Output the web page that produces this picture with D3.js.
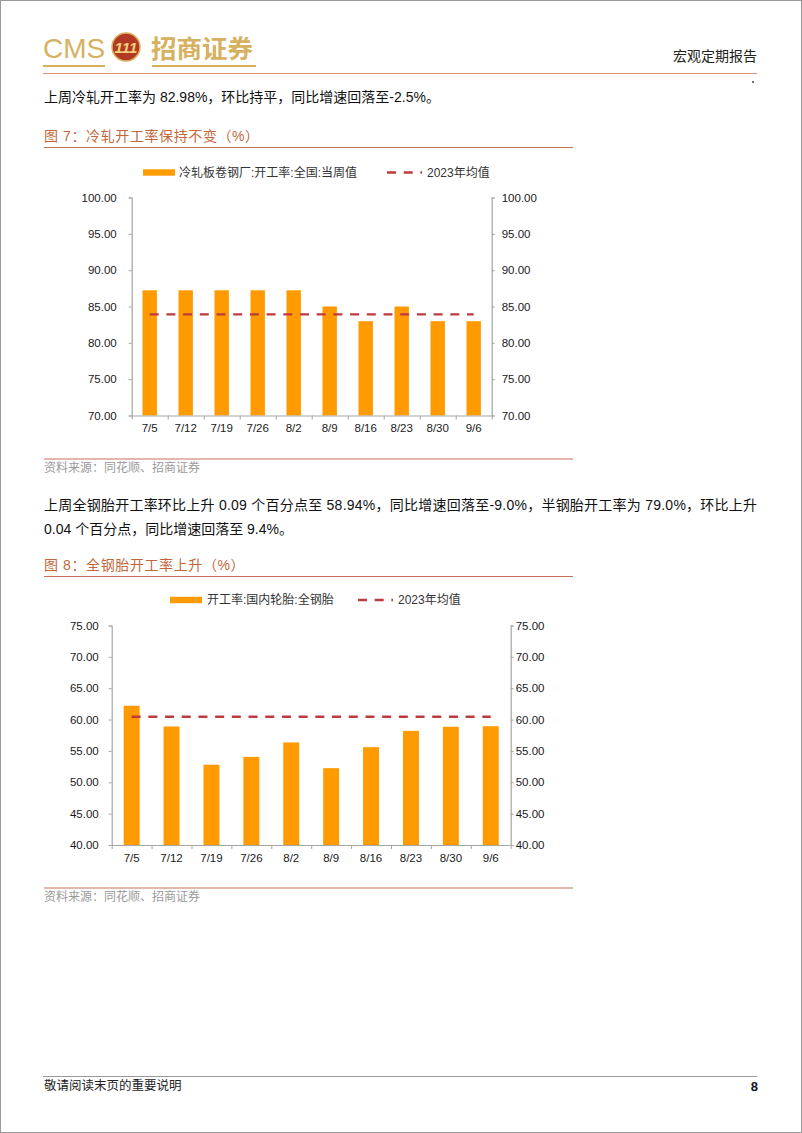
<!DOCTYPE html>
<html><head><meta charset="utf-8">
<script src="https://cdn.jsdelivr.net/npm/d3@7"></script>
<style>
html,body{margin:0;padding:0;background:#fff;}
svg{display:block;font-family:"Liberation Sans","Noto Sans CJK SC",sans-serif;}
</style></head>
<body>
<script>
// ---------- data ----------
const weeks = ["7/5","7/12","7/19","7/26","8/2","8/9","8/16","8/23","8/30","9/6"];
const coldRolledRate = [87.23,87.23,87.23,87.23,87.23,85.00,82.98,85.00,82.98,82.98];
const coldRolledAvg2023 = 83.93;
const coldRolledTicks = [70,75,80,85,90,95,100];
const allSteelTireRate = [62.2,58.9,52.8,54.05,56.35,52.25,55.6,58.2,58.85,58.94];
const allSteelTireAvg2023 = 60.45;
const allSteelTicks = [40,45,50,55,60,65,70,75];
const legend1 = ["冷轧板卷钢厂:开工率:全国:当周值","2023年均值"];
const legend2 = ["开工率:国内轮胎:全钢胎","2023年均值"];

const W = 802, H = 1133;
const svg = d3.select("body").append("svg").attr("width", W).attr("height", H);
svg.append("rect").attr("x",0).attr("y",0).attr("width",W).attr("height",H).attr("fill","#fff");
svg.append("rect").attr("x",0.5).attr("y",0.5).attr("width",W-1).attr("height",H-1)
  .attr("fill","none").attr("stroke","#9a9a9a").attr("stroke-width",1);

const GOLD = "#D6B15F", RULE = "#C9705C", TITLE = "#C2673A";
const BAR = "#FF9A00", DASH = "#BE3A3E", AXIS = "#A6A6A6";

// ---------- header ----------
svg.append("text").attr("x",43).attr("y",58).attr("font-size",28).attr("fill",GOLD).text("CMS");
svg.append("line").attr("x1",43).attr("x2",105).attr("y1",66).attr("y2",66).attr("stroke",GOLD).attr("stroke-width",2);
svg.append("circle").attr("cx",126).attr("cy",47).attr("r",14).attr("fill","#B23A25").attr("stroke",GOLD).attr("stroke-width",1.5);
svg.append("text").attr("x",126).attr("y",53).attr("text-anchor","middle").attr("font-size",15)
  .attr("font-weight","bold").attr("font-style","italic").attr("fill","#F2D27A").text("111");
svg.append("text").attr("x",151).attr("y",58).attr("font-size",25.5).attr("font-weight","bold").attr("fill",GOLD).text("招商证券");
svg.append("line").attr("x1",152).attr("x2",256).attr("y1",66).attr("y2",66).attr("stroke",GOLD).attr("stroke-width",2);
svg.append("text").attr("x",757).attr("y",61).attr("text-anchor","end").attr("font-size",14).attr("fill","#222").text("宏观定期报告");
svg.append("line").attr("x1",43).attr("x2",757).attr("y1",73.5).attr("y2",73.5).attr("stroke","#DE8A78").attr("stroke-width",1.2);
svg.append("circle").attr("cx",753).attr("cy",82).attr("r",0.9).attr("fill","#333");

// ---------- paragraphs ----------
svg.append("text").attr("x",44).attr("y",102).attr("font-size",14).attr("fill","#111")
  .text("上周冷轧开工率为 82.98%，环比持平，同比增速回落至-2.5%。");
svg.append("text").attr("x",44).attr("y",510).attr("font-size",14).attr("fill","#111")
  .attr("textLength",713).attr("lengthAdjust","spacing")
  .text("上周全钢胎开工率环比上升 0.09 个百分点至 58.94%，同比增速回落至-9.0%，半钢胎开工率为 79.0%，环比上升");
svg.append("text").attr("x",44).attr("y",534).attr("font-size",14).attr("fill","#111")
  .text("0.04 个百分点，同比增速回落至 9.4%。");

// ---------- footer ----------
svg.append("line").attr("x1",43).attr("x2",757).attr("y1",1076.5).attr("y2",1076.5).attr("stroke","#999").attr("stroke-width",1);
svg.append("text").attr("x",44).attr("y",1090).attr("font-size",12.5).attr("fill","#222").text("敬请阅读末页的重要说明");
svg.append("text").attr("x",758).attr("y",1091).attr("text-anchor","end").attr("font-size",13).attr("font-weight","bold").attr("fill","#111").text("8");

// ---------- chart drawer ----------
function drawChart(c) {
  const g = svg.append("g");
  // title + rules
  g.append("text").attr("x",44).attr("y",c.titleY).attr("font-size",14).attr("letter-spacing",0.6).attr("fill",TITLE).text(c.title);
  g.append("line").attr("x1",44).attr("x2",573).attr("y1",c.titleY+6.5).attr("y2",c.titleY+6.5).attr("stroke",RULE).attr("stroke-width",1.2);
  g.append("line").attr("x1",44).attr("x2",573).attr("y1",c.srcY-13).attr("y2",c.srcY-13).attr("stroke",RULE).attr("stroke-width",1.2);
  g.append("text").attr("x",44).attr("y",c.srcY).attr("font-size",12).attr("fill","#9a9a9a").text("资料来源：同花顺、招商证券");

  const y = d3.scaleLinear().domain(c.domain).range([c.yBottom, c.yTop]);
  const x = d3.scaleBand().domain(weeks).range([c.xLeft, c.xRight]).paddingInner(0.6).paddingOuter(0.3);
  const xb = d3.scaleLinear().domain([0, weeks.length]).range([c.xLeft, c.xRight]);

  const lineGen = d3.line().x(d => x(d[0]) + x.bandwidth()/2).y(d => y(d[1]));
  const avgData = weeks.map(w => [w, c.avg]);

  g.selectAll("rect.bar").data(c.values).join("rect").attr("class","bar")
    .attr("x",(d,i)=>x(weeks[i])).attr("width",x.bandwidth())
    .attr("y",d=>y(d)).attr("height",d=>y(c.domain[0])-y(d)).attr("fill",BAR);
  g.append("path").datum(avgData).attr("d", lineGen).attr("fill","none")
    .attr("stroke",DASH).attr("stroke-width",2.3).attr("stroke-dasharray","9,7.7");

  // axes
  const left = g.append("g").attr("transform",`translate(${c.xLeft},0)`)
    .call(d3.axisLeft(y).tickValues(c.ticks).tickFormat(d3.format(".2f")).tickSize(3).tickPadding(c.padL));
  const right = g.append("g").attr("transform",`translate(${c.xRight},0)`)
    .call(d3.axisRight(y).tickValues(c.ticks).tickFormat(d3.format(".2f")).tickSize(3).tickPadding(c.padR));
  const bottom = g.append("g").attr("transform",`translate(0,${c.yBottom})`)
    .call(d3.axisBottom(xb).tickValues(d3.range(0, weeks.length+1)).tickFormat("").tickSize(4).tickSizeOuter(0));
  const labels = g.append("g").attr("transform",`translate(0,${c.yBottom})`)
    .call(d3.axisBottom(x).tickSize(0).tickPadding(c.padX));
  labels.select(".domain").remove();
  [left,right,bottom].forEach(a => {
    a.select(".domain").attr("stroke",AXIS).attr("stroke-width",1.2);
    a.selectAll(".tick line").attr("stroke",AXIS).attr("stroke-width",1);
  });
  [left,right,labels].forEach(a => a.selectAll("text").attr("font-size",11.5).attr("fill","#1a1a1a")
     .attr("font-family",'"Liberation Sans",Arial,sans-serif'));

  // legend
  const lg = g.append("g");
  lg.append("rect").attr("x",c.lg.sx).attr("y",c.lg.y-3.2).attr("width",32).attr("height",6.4).attr("fill",BAR);
  lg.append("text").attr("x",c.lg.tx).attr("y",c.lg.y+4.3).attr("font-size",12).attr("fill","#333").text(c.legend[0]);
  lg.append("line").attr("x1",c.lg.dx).attr("x2",c.lg.dx+35).attr("y1",c.lg.y).attr("y2",c.lg.y)
    .attr("stroke",DASH).attr("stroke-width",2.3).attr("stroke-dasharray","9,7.7");
  lg.append("text").attr("x",c.lg.dx+40).attr("y",c.lg.y+4.3).attr("font-size",12).attr("fill","#333").text(c.legend[1]);
}

drawChart({
  title:"图 7：冷轧开工率保持不变（%）", titleY:141, srcY:472,
  values:coldRolledRate, avg:coldRolledAvg2023, ticks:coldRolledTicks, domain:[70,100],
  xLeft:131.7, xRight:491.7, yTop:197.5, yBottom:415.5,
  padL:12, padR:7, padX:8,
  legend:legend1, lg:{sx:143, tx:179, dx:387, y:172.5}
});
drawChart({
  title:"图 8：全钢胎开工率上升（%）", titleY:570, srcY:901,
  values:allSteelTireRate, avg:allSteelTireAvg2023, ticks:allSteelTicks, domain:[40,75],
  xLeft:111.7, xRight:510.7, yTop:625.5, yBottom:845,
  padL:10, padR:2, padX:9,
  legend:legend2, lg:{sx:170, tx:207, dx:358, y:600}
});
</script>
</body></html>
